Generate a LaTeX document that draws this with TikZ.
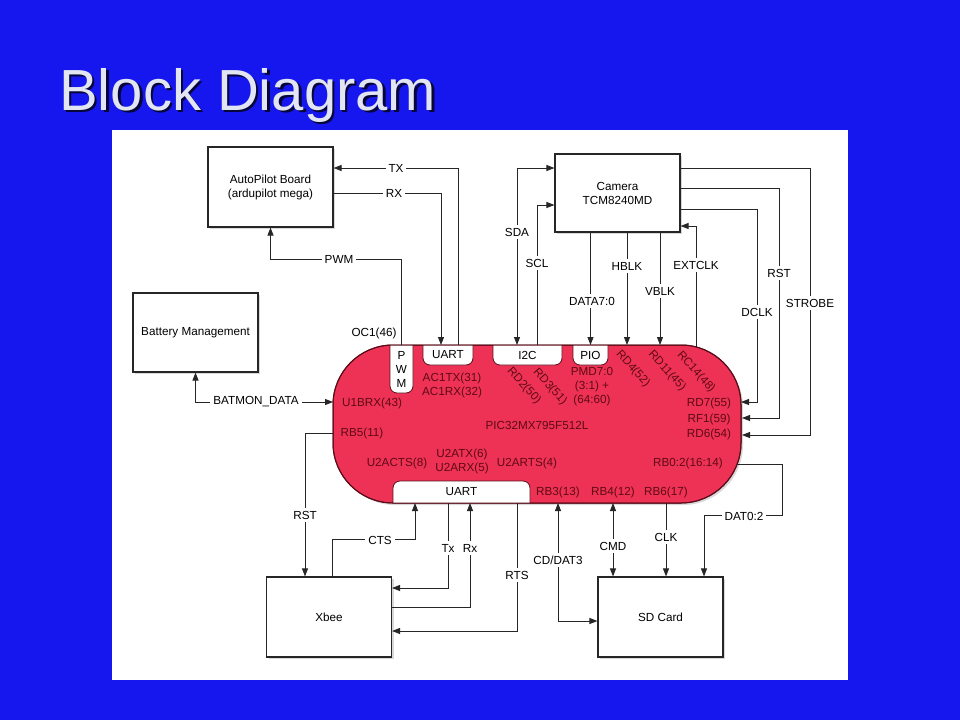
\documentclass[tikz,border=0pt]{standalone}
\usepackage{fontspec}
\setmainfont{Liberation Sans}
\usetikzlibrary{arrows.meta,shadows}
\definecolor{slideblue}{RGB}{22,22,238}
\definecolor{titlegray}{RGB}{226,229,242}
\definecolor{picred}{RGB}{238,50,85}
\definecolor{picline}{RGB}{90,12,24}
\definecolor{pintext}{RGB}{95,10,20}
\tikzset{
  txt/.style={font=\fontsize{11.7}{14}\selectfont, align=center},
  block/.style={txt, draw=black!85, line width=1.1pt, fill=white,
    minimum width=125pt, minimum height=80pt,
    drop shadow={shadow xshift=2pt, shadow yshift=-2pt, opacity=0.3}},
  wire/.style={line width=0.9pt, black!85, >={Triangle[length=8pt,width=6pt]}},
  lbl/.style={txt, fill=white, inner xsep=3pt, inner ysep=2.5pt},
  pin/.style={txt, text=pintext, inner sep=0pt},
  tab/.style={draw=picline, line width=0.8pt, fill=white, rounded corners=7pt},
  tabtxt/.style={txt, inner sep=0pt, outer sep=0pt},
}
\begin{document}
\begin{tikzpicture}[x=1pt,y=-1pt]
\useasboundingbox (0,0) rectangle (960,720);
\fill[slideblue] (0,0) rectangle (960,720);
\node[anchor=base west, inner sep=0pt, text=black!75!slideblue, font=\fontsize{58}{60}\selectfont] (titleshadow) at (61.5,112.5) {Block Diagram};
\node[anchor=base west, inner sep=0pt, text=titlegray, font=\fontsize{58}{60}\selectfont] (title) at (59,110) {Block Diagram};
\fill[white] (112,130) rectangle (848,680);

\node[draw=picline, line width=1pt, fill=picred, rounded corners=60pt, outer sep=0pt,
  minimum width=408pt, minimum height=158pt,
  drop shadow={shadow xshift=2pt, shadow yshift=-2pt, opacity=0.3}] (pic) at (537,424) {};
\begin{scope}
\clip[rounded corners=60pt] (333,345) rectangle (741,503);
\draw[tab] (390,335) rectangle (413,393);
\draw[tab] (423,335) rectangle (473,365);
\draw[tab] (493,335) rectangle (562,365);
\draw[tab] (573,335) rectangle (608,365);
\draw[tab] (393,481) rectangle (530,513);
\end{scope}
\draw[picline, line width=1pt, rounded corners=60pt] (pic.north west) rectangle (pic.south east);

\node[tabtxt, minimum width=23pt, minimum height=48pt] (pwm) at (401.5,369) {P\\W\\M};
\node[tabtxt, minimum width=50pt, minimum height=20pt] (uarta) at (448,355) {UART};
\node[tabtxt, minimum width=69pt, minimum height=20pt] (i2c) at (527.5,355) {I2C};
\node[tabtxt, minimum width=35pt, minimum height=20pt] (pio) at (590.5,355) {PIO};
\node[tabtxt, minimum width=137pt, minimum height=22pt] (uartb) at (461.5,492) {UART};

\node[pin] (pAC1) at (452,385) {AC1TX(31)\\AC1RX(32)};
\node[pin] (pU1BRX) at (372,403) {U1BRX(43)};
\node[pin] (pRB5) at (362,433) {RB5(11)};
\node[pin] (pName) at (537,425) {PIC32MX795F512L};
\node[pin] (pU2ACTS) at (397,463) {U2ACTS(8)};
\node[pin] (pU2A) at (462,461) {U2ATX(6)\\U2ARX(5)};
\node[pin] (pU2ARTS) at (527,463) {U2ARTS(4)};
\node[pin, rotate=-48] (pRD2) at (524,386) {RD2(50)};
\node[pin, rotate=-48] (pRD3) at (550,387) {RD3(51)};
\node[pin] (pPMD) at (592,387) {PMD7:0\\(3:1) +\\(64:60)};
\node[pin, rotate=-48] (pRD4) at (633,369) {RD4(52)};
\node[pin, rotate=-48] (pRD11) at (667,371) {RD11(45)};
\node[pin, rotate=-48] (pRC14) at (696,372) {RC14(48)};
\node[pin] (pRD7) at (709,403) {RD7(55)};
\node[pin] (pRF1) at (709,419) {RF1(59)};
\node[pin] (pRD6) at (709,434) {RD6(54)};
\node[pin] (pRB02) at (688,463) {RB0:2(16:14)};
\node[pin] (pRB3) at (558,492) {RB3(13)};
\node[pin] (pRB4) at (613,492) {RB4(12)};
\node[pin] (pRB6) at (666,492) {RB6(17)};

\coordinate (u1brx) at (333,402);
\coordinate (rb5) at (333,433);
\coordinate (rb3) at (558,503);
\coordinate (rb4) at (613,503);
\coordinate (rb6) at (666,503);
\coordinate (rb02) at (737,464);
\coordinate (rd4) at (627,345);
\coordinate (rd11) at (660,345);
\coordinate (rc14) at (696,347);
\coordinate (rd7) at (741,402);
\coordinate (rf1) at (742,418);
\coordinate (rd6) at (742,435);

\node[block] (ap) at (270.5,187) {AutoPilot Board\\(ardupilot mega)};
\node[block, minimum height=79pt] (bat) at (195.5,332.5) {Battery Management};
\node[block, minimum height=78pt] (cam) at (617.5,193) {Camera\\TCM8240MD};
\node[block] (xb) at (329,617) {Xbee};
\node[block] (sd) at (660.5,617) {SD Card};

\draw[wire,->] ([xshift=10pt]uarta.north) |- ([yshift=19pt]ap.east);
\draw[wire,->] ([yshift=-6pt]ap.east) -| ([xshift=-7pt]uarta.north);
\draw[wire,->] (pwm.north) -- ++(0,-86) -| (ap.south);
\draw[wire,<->] (bat.south) |- (u1brx);
\draw[wire,->] (rb5) -| ([xshift=-24pt]xb.north);
\draw[wire,->] ([xshift=3pt]xb.north) -- ++(0,-37) -| ([xshift=-46.5pt]uartb.south);
\draw[wire,->] ([xshift=-13.5pt]uartb.south) |- ([yshift=29pt]xb.east);
\draw[wire,->] ([yshift=10pt]xb.east) -| ([xshift=8.5pt]uartb.south);
\draw[wire,->] ([xshift=55.5pt]uartb.south) |- ([yshift=-14pt]xb.east);
\draw[wire,<->] (rb3) |- ([yshift=-4pt]sd.west);
\draw[wire,<->] (rb4) -- (rb4 |- sd.north);
\draw[wire,->] (rb6) -- (rb6 |- sd.north);
\draw[wire,->] (rb02) -- ++(45,0) |- ([xshift=43.5pt,yshift=61pt]sd.north) -- ([xshift=43.5pt]sd.north);
\draw[wire,<->] ([xshift=-10.5pt]i2c.north) |- ([yshift=25pt]cam.west);
\draw[wire,->] ([xshift=9.5pt]i2c.north) |- ([yshift=-12pt]cam.west);
\draw[wire,->] (pio.north |- cam.south) -- (pio.north);
\draw[wire,->] (cam.south -| rd4) -- (rd4);
\draw[wire,->] (cam.south -| rd11) -- (rd11);
\draw[wire,->] (rc14) |- ([yshift=-33pt]cam.east);
\draw[wire,->] ([yshift=25pt]cam.east) -- ++(130,0) |- (rd6);
\draw[wire,->] ([yshift=5pt]cam.east) -- ++(99,0) |- (rf1);
\draw[wire,->] ([yshift=-16pt]cam.east) -- ++(77,0) |- (rd7);

\node[lbl] (lTX) at (396,168) {TX};
\node[lbl] (lRX) at (394,193) {RX};
\node[lbl] (lPWM) at (339,259) {PWM};
\node[txt] (lOC1) at (374,333) {OC1(46)};
\node[lbl] (lBAT) at (256,402) {BATMON\_DATA};
\node[lbl] (lRST) at (305,515) {RST};
\node[lbl] (lCTS) at (380,540) {CTS};
\node[lbl] (lTx) at (448,548) {Tx};
\node[lbl] (lRx) at (470,548) {Rx};
\node[lbl] (lRTS) at (517,575) {RTS};
\node[lbl] (lCD) at (558,560) {CD/DAT3};
\node[lbl] (lCMD) at (613,546) {CMD};
\node[lbl] (lCLK) at (666,537) {CLK};
\node[lbl] (lDAT) at (744,516) {DAT0:2};
\node[lbl] (lSDA) at (517,232) {SDA};
\node[lbl] (lSCL) at (537,263) {SCL};
\node[lbl] (lDATA) at (592,301) {DATA7:0};
\node[lbl] (lHB) at (627,266) {HBLK};
\node[lbl] (lVB) at (660,291) {VBLK};
\node[lbl] (lEXT) at (696,265) {EXTCLK};
\node[lbl] (lRSTc) at (779,273) {RST};
\node[lbl] (lDCLK) at (757,312) {DCLK};
\node[lbl] (lSTR) at (810,303) {STROBE};
\end{tikzpicture}
\end{document}
